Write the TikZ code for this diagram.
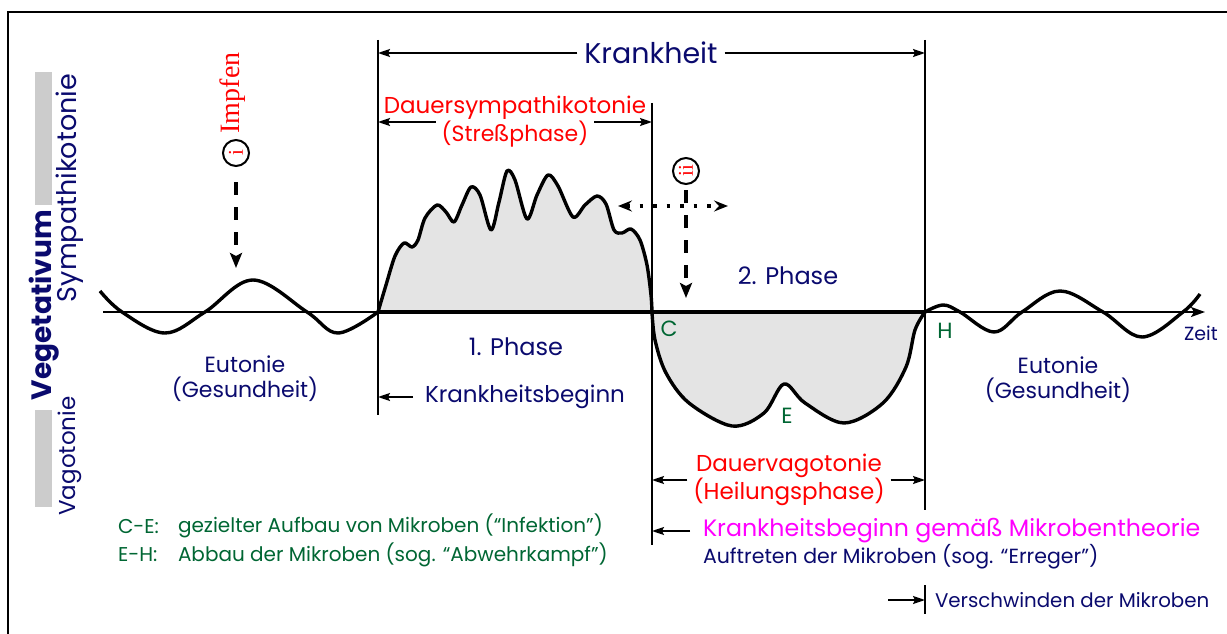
\documentclass[tikz,border=0pt]{standalone}
\usepackage{fontspec}
\setmainfont{Poppins}
\newfontfamily\serifrm{Liberation Serif}
\usetikzlibrary{arrows.meta}
\definecolor{ink}{RGB}{10,10,110}
\definecolor{redtx}{RGB}{255,0,0}
\definecolor{greentx}{RGB}{0,102,51}
\definecolor{magtx}{RGB}{255,0,255}
\definecolor{fillgray}{RGB}{228,228,228}
\definecolor{bargray}{RGB}{204,204,204}
\newcommand\fsz[1]{\fontsize{#1}{#1}\selectfont}

\begin{document}
\begin{tikzpicture}[x=1pt,y=-1pt,
  every node/.style={inner sep=0pt,outer sep=0pt},
  lab/.style={text=ink,font=\fsz{22}},
  redlab/.style={text=redtx,font=\fsz{23}},
  grn/.style={text=greentx,font=\fsz{20}},
  dim/.style={line width=1.8pt,-{Stealth[length=12pt,width=8pt,inset=2pt]}},
  vline/.style={line width=2pt},
  wave/.style={line width=3.4pt,line join=round},
  dashy/.style={line width=4pt,dash pattern=on 13pt off 12pt,
    -{Stealth[length=15pt,width=12pt,inset=3pt]}},
  ringed/.style={circle,draw,line width=2pt,minimum size=26pt,rotate=90,
    text=redtx,font=\serifrm\fsz{21}}]
\useasboundingbox (0,0) rectangle (1227,634);
% frame
\draw[line width=2pt] (8,634) -- (8,12) -- (1227,12);

% Vegetativum label
\fill[bargray] (35,72) rectangle (52,205);
\fill[bargray] (35,410) rectangle (52,507);
\node[rotate=90,text=ink,font={\fsz{28}\bfseries}] (veg) at (44,305) {Vegetativum};
\node[rotate=90,lab,font=\fsz{27}] (sym) at (70,188) {Sympathikotonie};
\node[rotate=90,lab,font=\fsz{23}] (vag) at (70,456) {Vagotonie};

% key points on the time axis
\coordinate (ax0) at (103,312);
\coordinate (ax1) at (1205,312);
\coordinate (k0) at (378,312);
\coordinate (c0) at (652,312);
\coordinate (h0) at (925,312);

% filled phases
\draw[wave,fill=fillgray] plot[smooth,tension=.5] coordinates {
  (378,312) (386,285) (395,256) (404,243) (412,247) (418,240) (425,218)
  (437,205) (446,212) (454,222) (462,205) (471,187) (480,195) (491,230)
  (499,202) (507,171) (515,180) (527,219) (537,195) (548,175) (558,186)
  (573,217) (585,205) (597,196) (606,204) (614,230) (622,233) (631,229)
  (640,240) (647,265) (651,295) (652,312)} -- cycle;
\draw[wave,fill=fillgray] plot[smooth,tension=.55] coordinates {
  (652,312) (655,340) (666,373) (689,403) (732,426) (764,413) (784,384)
  (805,403) (844,423) (883,403) (906,367) (915,330) (925,312)} -- cycle;

% axis
\draw[line width=2pt,-{Stealth[length=14pt,width=10pt,inset=3pt]}] (ax0) -- (ax1);
\draw[line width=4.5pt] (k0) -- (h0);

% healthy waves
\draw[wave] plot[smooth,tension=.6] coordinates {
  (100,291) (122,312) (165,333) (205,312) (253,280) (307,312) (338,333) (378,312)};
\draw[wave] plot[smooth,tension=.6] coordinates {
  (925,312) (943,305) (960,312) (994,332) (1022,312) (1060,291) (1103,312)
  (1142,337) (1183,312) (1200,294)};

% vertical markers
\draw[vline] (378,40) -- (378,415);
\draw[vline] (925,40) -- (925,510);
\draw[vline] (652,103) -- (652,545);
\draw[vline] (925,585) -- (925,614);

% Krankheit
\node[lab,font=\fsz{28.5},inner sep=7pt] (krank) at (651,53) {Krankheit};
\draw[dim] (krank) -- (k0 |- krank);
\draw[dim] (krank) -- (h0 |- krank);

% Stressphase
\node[redlab] (dsym) at (515,108) {Dauersympathikotonie};
\node[redlab,font=\fsz{22},inner sep=6pt] (stress) at (515,134) {(Streßphase)};
\draw[dim] ([yshift=12pt]stress.west) -- ([yshift=12pt]stress.west -| k0);
\draw[dim] ([yshift=12pt]stress.east) -- ([yshift=12pt]stress.east -| c0);

% Heilungsphase
\node[redlab] (dvag) at (789,466) {Dauervagotonie};
\node[redlab,inner sep=6pt] (heil) at (789,492) {(Heilungsphase)};
\draw[dim] ([yshift=12pt]heil.west) -- ([yshift=12pt]heil.west -| c0);
\draw[dim] ([yshift=12pt]heil.east) -- ([yshift=12pt]heil.east -| h0);

% phases and health
\node[lab] (eut1) at (245,364) {Eutonie};
\node[lab] (ges1) at (245,389) {(Gesundheit)};
\node[lab] (eut2) at (1058,365) {Eutonie};
\node[lab] (ges2) at (1058,390) {(Gesundheit)};
\node[lab,font=\fsz{24}] (ph1) at (516,347) {1. Phase};
\node[lab,font=\fsz{24}] (ph2) at (788,276) {2. Phase};
\node[lab,font=\fsz{19}] (zeit) at (1201,333) {Zeit};
\node[grn,font=\fsz{22}] (cc) at (669,329) {C};
\node[grn,font=\fsz{22}] (ee) at (787,416) {E};
\node[grn,font=\fsz{22}] (hh) at (945,331) {H};

% Krankheitsbeginn
\node[lab,anchor=west,font=\fsz{23}] (kbeg) at (425,397) {Krankheitsbeginn};
\draw[dim] ([xshift=-12pt]kbeg.west) -- (k0 |- kbeg.west);

% Mikrobentheorie
\node[anchor=west,text=magtx,font=\fsz{23.7}] (mikth) at (703,531) {Krankheitsbeginn gemäß Mikrobentheorie};
\draw[dim] ([xshift=-13pt]mikth.west) -- (c0 |- mikth.west);
\node[lab,anchor=west,font=\fsz{20.5}] (auftr) at (703,557) {Auftreten der Mikroben (sog. “Erreger”)};
\node[lab,anchor=west,font=\fsz{19.8}] (versch) at (935,600) {Verschwinden der Mikroben};
\coordinate (vm) at (h0 |- versch.west);
\draw[dim] ([xshift=-37pt]vm) -- (vm);

% legend
\node[grn,anchor=west] (ce) at (118,526) {C-E:};
\node[grn,anchor=west] (cetx) at (178,526) {gezielter Aufbau von Mikroben (“Infektion”)};
\node[grn,anchor=west] (eh) at (118,555) {E-H:};
\node[grn,anchor=west] (ehtx) at (178,555) {Abbau der Mikroben (sog. “Abwehrkampf”)};

% Impfen
\node[rotate=90,text=redtx,font=\serifrm\fsz{28}] (impf) at (233,93) {Impfen};
\node[ringed] (ci) at (236,153) {i};
\coordinate (iend) at (236,268);
\draw[dashy,shorten <=16pt] (ci) -- (iend);

% second intervention
\node[ringed] (cii) at (686,171) {ii};
\coordinate (iiend) at (686,298);
\draw[dashy,shorten <=6pt] (cii) -- (iiend);
\coordinate (dl) at (618,206);
\coordinate (dr) at (728,206);
\draw[line width=3.5pt,dash pattern=on 3.5pt off 10pt,
  {Stealth[length=14pt,width=11pt,inset=5pt]}-{Stealth[length=14pt,width=11pt,inset=5pt]}] (dl) -- (dr);
\end{tikzpicture}
\end{document}
